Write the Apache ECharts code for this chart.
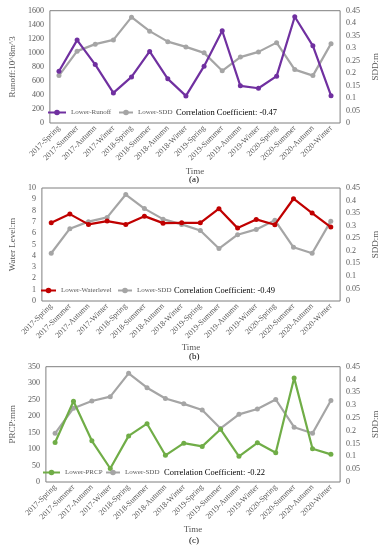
<!DOCTYPE html>
<html><head><meta charset="utf-8">
<script src="https://cdn.jsdelivr.net/npm/echarts@6/dist/echarts.min.js"></script>
<style>html,body{margin:0;padding:0;background:#fff;}#c{width:388px;height:550px;}</style>
</head><body><div id="c"></div>
<script>
const categories = ['2017-Spring','2017-Summer','2017-Autumn','2017-Winter','2018-Spring','2018-Summer','2018-Autumn','2018-Winter','2019-Spring','2019-Summer','2019-Autumn','2019-Winter','2020-Spring','2020-Summer','2020-Autumn','2020-Winter'];
const sdd = [0.19,0.288,0.316,0.333,0.424,0.368,0.326,0.305,0.281,0.209,0.264,0.285,0.322,0.214,0.19,0.318];
const runoff = [738,1181,833,429,657,1019,629,386,810,1314,529,495,667,1514,1100,390];
const waterlevel = [6.92,7.69,6.78,7.07,6.78,7.51,6.89,6.92,6.92,8.17,6.45,7.22,6.75,9.05,7.78,6.54];
const prcp = [120,245,125,41,140,177,81,118,108,160,78,119,89,316,101,84];
const corr = ['-0.47','-0.49','-0.22'];

const FONT = 'Liberation Serif';
const TXT = '#595959';
const FRAME = '#7f7f7f';
const grids = [
  {left:33, right:35, top:10.7, height:112.3},
  {left:29, right:34, top:188, height:113},
  {left:32, right:32, top:366.7, height:115.3}
];
const leftAxes = [
  {name:'Runoff:10^8m^3', max:1600, interval:200},
  {name:'Water Level:m', max:10, interval:1},
  {name:'PRCP:mm', max:350, interval:50}
];
const mainSeries = [
  {name:'Lower-Runoff', data:runoff, color:'#7030A0'},
  {name:'Lower-Waterlevel', data:waterlevel, color:'#C00000'},
  {name:'Lower-PRCP', data:prcp, color:'#70AD47'}
];
const legendPos = [
  {l1:47, w1:18, l2:118, w2:14, y:113, corrX:176},
  {l1:40, w1:15, l2:117, w2:14, y:291, corrX:174},
  {l1:42, w1:17, l2:105, w2:14, y:473, corrX:164}
];
const nameGaps = [44, 42, 43];
const panelLabel = [{t:'(a)', y:180},{t:'(b)', y:357},{t:'(c)', y:541}];

const grid=[], xAxis=[], yAxis=[], series=[], legend=[], graphic=[];
for (let i=0;i<3;i++){
  grid.push(Object.assign({show:true, borderColor:FRAME, borderWidth:1, containLabel:false}, grids[i]));
  xAxis.push({type:'category', gridIndex:i, data:categories, boundaryGap:true,
    axisLine:{show:false}, axisTick:{show:false},
    axisLabel:{rotate:45, fontSize:8, color:TXT, fontFamily:FONT, margin:4, interval:0},
    name:'Time', nameLocation:'middle', nameGap:nameGaps[i],
    nameTextStyle:{fontSize:9, color:TXT, fontFamily:FONT}});
  yAxis.push({type:'value', gridIndex:i, min:0, max:leftAxes[i].max, interval:leftAxes[i].interval,
    splitLine:{show:false}, axisLine:{show:false}, axisTick:{show:false},
    axisLabel:{fontSize:8, color:TXT, fontFamily:FONT, margin:6, formatter: v => String(v)},
    name:leftAxes[i].name, nameLocation:'middle', nameGap:22, nameRotate:90,
    nameTextStyle:{fontSize:9, color:TXT, fontFamily:FONT}});
  yAxis.push({type:'value', gridIndex:i, position:'right', min:0, max:0.45, interval:0.05,
    splitLine:{show:false}, axisLine:{show:false}, axisTick:{show:false},
    axisLabel:{fontSize:8, color:TXT, fontFamily:FONT, margin:6, formatter: v => String(+v.toFixed(2))},
    name:'SDD:m', nameLocation:'middle', nameGap:27, nameRotate:90,
    nameTextStyle:{fontSize:9, color:TXT, fontFamily:FONT}});
  const ms = mainSeries[i];
  series.push({type:'line', name:ms.name, xAxisIndex:i, yAxisIndex:2*i, data:ms.data,
    symbol:'circle', symbolSize:5, color:ms.color, lineStyle:{width:2.2, color:ms.color},
    itemStyle:{color:ms.color}, z:3});
  series.push({type:'line', name:'Lower-SDD', xAxisIndex:i, yAxisIndex:2*i+1, data:sdd,
    symbol:'circle', symbolSize:5, color:'#A5A5A5', lineStyle:{width:2.2, color:'#A5A5A5'},
    itemStyle:{color:'#A5A5A5'}, z:2});
  const lp = legendPos[i];
  legend.push({show:true, left:lp.l1, top:lp.y-4, itemWidth:lp.w1, itemHeight:7,
    data:[ms.name], textStyle:{fontSize:7, color:TXT, fontFamily:FONT}, padding:0, selectedMode:false});
  legend.push({show:true, left:lp.l2, top:lp.y-4, itemWidth:lp.w2, itemHeight:7,
    data:['Lower-SDD'], textStyle:{fontSize:7, color:TXT, fontFamily:FONT}, padding:0, selectedMode:false});
  graphic.push({type:'text', left:lp.corrX, top:lp.y-5,
    style:{text:'Correlation Coefficient: '+corr[i], font:'8.5px "'+FONT+'"', fill:'#000'}});
  graphic.push({type:'text', left:189, top:panelLabel[i].y-5,
    style:{text:panelLabel[i].t, font:'9px "'+FONT+'"', fill:'#000'}});
}
const chart = echarts.init(document.getElementById('c'), null, {renderer:'canvas'});
chart.setOption({animation:false, backgroundColor:'#fff', grid, xAxis, yAxis, series, legend, graphic});
</script></body></html>
